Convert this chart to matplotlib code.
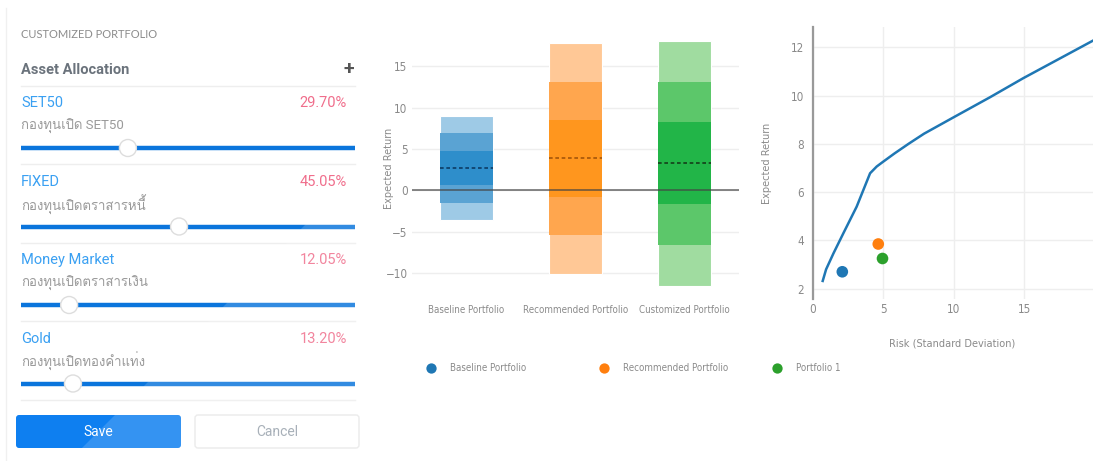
import matplotlib
matplotlib.use("Agg")
import matplotlib.pyplot as plt
from matplotlib import font_manager as fm
from matplotlib.ft2font import FT2Font
from matplotlib.patches import FancyBboxPatch, Circle, Polygon

W, H = 1108, 461

# asset allocation panel
assets = ["SET50", "FIXED", "Money Market", "Gold"]
assets_th = ["กองทุนเปิด SET50", "กองทุนเปิดตราสารหนี้",
             "กองทุนเปิดตราสารเงิน", "กองทุนเปิดทองคำแท่ง"]
weights = [29.70, 45.05, 12.05, 13.20]

# portfolio statistics (mean return / standard deviation)
portfolios = ["Baseline Portfolio", "Recommended Portfolio", "Customized Portfolio"]
legend_names = ["Baseline Portfolio", "Recommended Portfolio", "Portfolio 1"]
exp_return = [2.7, 3.85, 3.25]
std_dev = [2.1, 4.65, 4.95]

# efficient frontier
frontier_risk = [0.71, 0.95, 1.47, 2.17, 3.12, 4.07, 4.54, 5.0, 5.8, 6.8,
                 7.9, 10.0, 12.58, 14.94, 19.9, 20.4]
frontier_ret = [2.32, 2.8, 3.46, 4.29, 5.4, 6.78, 7.06, 7.26, 7.6, 8.0,
                8.42, 9.1, 9.93, 10.72, 12.28, 12.45]

installed = {f.name for f in fm.fontManager.ttflist}


def pick(*names):
    return [n for n in names if n in installed] or ["DejaVu Sans"]


def thai_family():
    for f in fm.fontManager.ttflist:
        try:
            if ord("ก") in FT2Font(f.fname).get_charmap():
                return [f.name]
        except Exception:
            pass
    return []


def narrow_props(size):
    # a condensed sans face if one is around, else plain Roboto a bit smaller
    for f in fm.fontManager.ttflist:
        tag = f.name + " " + str(f.stretch)
        if "Serif" in f.name or "Mono" in f.name:
            continue
        if ("ondensed" in tag or "Narrow" in tag) and f.style == "normal" \
                and str(f.weight) in ("300", "400", "normal", "light"):
            return fm.FontProperties(fname=f.fname, size=size)
    return fm.FontProperties(family=pick("Roboto", "Open Sans"), size=size * 0.84)


UI = pick("Roboto", "Open Sans", "DejaVu Sans")
TH = UI + thai_family() + ["DejaVu Sans"]
TITLE = narrow_props(7.8)
SMALL = narrow_props(7.0)
TICKS = narrow_props(8.4)

BAND = [("#9ecae6", "#5aa3d3", "#2e8ecb", "#0d3c66"),
        ("#ffc896", "#ffa64e", "#ff961e", "#a4560a"),
        ("#a0dca0", "#5cc76a", "#22b548", "#143f1a")]
DOTS = ["#1f77b4", "#ff7f0e", "#2ca02c"]
GRID = "#eeeeee"
TICK = "#8a8a8a"

fig = plt.figure(figsize=(W / 100, H / 100), dpi=100)
fig.patch.set_facecolor("white")

ui = fig.add_axes([0, 0, 1, 1])
ui.set_xlim(0, W)
ui.set_ylim(H, 0)
ui.axis("off")


def px_axes(left, top, right, bottom):
    return fig.add_axes([left / W, 1 - bottom / H, (right - left) / W, (bottom - top) / H])


# ---------------- left panel ----------------
ui.plot([6, 6], [8, H], color="#f0f0f0", lw=1)
ui.text(21, 35, "CUSTOMIZED PORTFOLIO", fontsize=8, color="#8c8c8c",
        family=pick("Lato", "Open Sans"), va="center")
ui.text(21, 70, "Asset Allocation", fontsize=10.5, fontweight="bold",
        color="#6b737c", family=UI, va="center")
ui.text(349, 69, "+", fontsize=14, fontweight="bold", color="#555555",
        family=UI, ha="center", va="center")
ui.plot([21, 355], [86, 86], color=GRID, lw=1)

track_l, track_r = 21, 355
for i, (name, th, w) in enumerate(zip(assets, assets_th, weights)):
    y0 = 103 + 78.5 * i
    ui.text(21, y0, name, fontsize=10.5, color="#3aa0f2", family=UI, va="center")
    ui.text(347, y0, f"{w:.2f}%", fontsize=10.5, color="#f06e8c", family=UI,
            ha="right", va="center")
    ui.text(21, y0 + 23, th, fontsize=9.5, color="#9a9a9a", family=TH, va="center")
    ys = y0 + 45
    ui.plot([track_l, track_r], [ys, ys], color="#0b75dc", lw=3.2,
            solid_capstyle="butt")
    tx = 29 + w / 100 * 333
    ui.add_patch(Circle((tx, ys), 8.5, fc="white", ec="#dddddd", lw=1, zorder=3))
    ui.plot([21, 355], [y0 + 61, y0 + 61], color=GRID, lw=1)

save = FancyBboxPatch((16, 415), 165, 33, boxstyle="round,pad=0,rounding_size=3",
                      fc="#0e7ff0", ec="none")
ui.add_patch(save)
ui.text(98.5, 432, "Save", fontsize=10, color="white", family=UI,
        ha="center", va="center")
ui.add_patch(FancyBboxPatch((195, 415), 164, 33, boxstyle="round,pad=0,rounding_size=3",
                            fc="white", ec="#e8e8e8", lw=1))
ui.text(277, 432, "Cancel", fontsize=10, color="#98a2ac", family=UI,
        ha="center", va="center")

# glare across the lower right of the panel
ui.add_patch(Polygon([(368, 162), (368, H), (69, H)], closed=True,
                     fc="white", ec="none", alpha=0.16, zorder=10))

# ---------------- return ranges ----------------
ax = px_axes(411.7, 35, 739, 295)
ax.set_facecolor("none")
ax.set_xlim(-0.5, 2.5)
ax.set_ylim(-12.66, 18.78)
bw = 0.487
for i, (m, s) in enumerate(zip(exp_return, std_dev)):
    outer, mid, inner, dash = BAND[i]
    ax.bar(i, 6 * s, bottom=m - 3 * s, width=bw, color=outer,
           edgecolor="white", lw=0.8, zorder=2)
    ax.bar(i, 4 * s, bottom=m - 2 * s, width=bw, color=mid, lw=0, zorder=3)
    ax.bar(i, 2 * s, bottom=m - s, width=bw, color=inner, lw=0, zorder=4)
    ax.hlines(m, i - bw / 2, i + bw / 2, colors=dash, lw=1.2,
              linestyles=(0, (2.2, 1.6)), zorder=5)
ax.axhline(0, color="#444444", lw=1.2, alpha=0.75, zorder=6)
ax.set_yticks([-10, -5, 0, 5, 10, 15])
ax.set_xticks(range(3))
ax.set_xticklabels(portfolios)
ax.grid(axis="y", color=GRID, lw=1, zorder=0)
ax.tick_params(length=0, labelcolor=TICK)
ax.tick_params(axis="x", pad=7)
ax.tick_params(axis="y", pad=3)
for t in ax.get_xticklabels():
    t.set_fontproperties(SMALL)
for t in ax.get_yticklabels():
    t.set_fontproperties(TICKS)
for sp in ax.spines.values():
    sp.set_visible(False)
ui.text(389, 168, "Expected Return", rotation=90, color=TICK,
        fontproperties=TITLE, ha="center", va="center")

# ---------------- risk / return ----------------
bx = px_axes(812.7, 26.7, 1093.3, 299.3)
bx.set_facecolor("none")
bx.set_xlim(0, 19.9)
bx.set_ylim(1.56, 12.85)
bx.plot(frontier_risk, frontier_ret, color="#1f77b4", lw=1.8, zorder=3)
bx.scatter(std_dev, exp_return, s=70, c=DOTS, zorder=4, lw=0)
bx.set_xticks([0, 5, 10, 15])
bx.set_yticks([2, 4, 6, 8, 10, 12])
bx.grid(color=GRID, lw=1, zorder=0)
bx.tick_params(length=0, labelcolor=TICK)
bx.tick_params(axis="x", pad=3)
bx.tick_params(axis="y", pad=6)
for t in bx.get_xticklabels() + bx.get_yticklabels():
    t.set_fontproperties(TICKS)
for k, sp in bx.spines.items():
    sp.set_visible(k == "left")
bx.spines["left"].set_color("#999999")
bx.spines["left"].set_linewidth(1.6)
ui.text(767, 163, "Expected Return", rotation=90, color=TICK,
        fontproperties=TITLE, ha="center", va="center")
ui.text(952, 343, "Risk (Standard Deviation)", color=TICK,
        fontproperties=TITLE, ha="center", va="center")

# legend row
for k, (name, col) in enumerate(zip(legend_names, DOTS)):
    lx = 431 + 173 * k
    ui.scatter([lx], [368], s=55, color=col, lw=0)
    ui.text(lx + 19, 368, name, color=TICK, fontproperties=SMALL, va="center")

fig.savefig("out.png", dpi=100)
